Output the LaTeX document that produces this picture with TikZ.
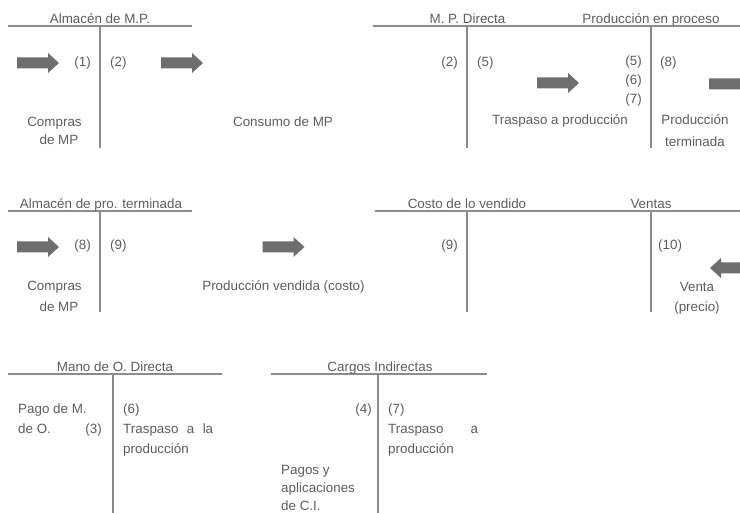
\documentclass[tikz,border=0pt]{standalone}
\usepackage{fontspec}
\setmainfont{Liberation Sans}
\definecolor{txt}{HTML}{5E5E5E}
\definecolor{ln}{HTML}{8C8C8C}
\definecolor{arr}{HTML}{6E6E6E}
\tikzset{
  lbl/.style={font=\fontsize{13.4}{16}\selectfont, text=txt, inner sep=0pt, anchor=base},
  lblL/.style={lbl, anchor=base west},
  lblR/.style={lbl, anchor=base east},
  tline/.style={draw=ln, line width=1.3pt},
  blockarrow/.pic={\fill[arr] (-21,-5.5) -- (10,-5.5) -- (10,-10) -- (21,0) -- (10,10) -- (10,5.5) -- (-21,5.5) -- cycle;}
}
\begin{document}
\begin{tikzpicture}[x=1pt,y=-1pt]
\clip (0,0) rectangle (740,513);
\fill[white] (0,0) rectangle (740,513);

% ---- T-account lines ----
\draw[tline] (8,26) -- (192,26);
\draw[tline] (100,26) -- (100,148);
\draw[tline] (373,26) -- (740,26);
\draw[tline] (467,26) -- (467,148);
\draw[tline] (651,26) -- (651,148);
\draw[tline] (8,211) -- (192,211);
\draw[tline] (100,211) -- (100,312);
\draw[tline] (375,211) -- (740,211);
\draw[tline] (467,211) -- (467,312);
\draw[tline] (651,211) -- (651,312);
\draw[tline] (8,374) -- (222,374);
\draw[tline] (113,374) -- (113,513);
\draw[tline] (271,374) -- (487,374);
\draw[tline] (378,374) -- (378,513);

% ---- block arrows ----
\pic at (38,63) {blockarrow};
\pic at (182,63) {blockarrow};
\pic at (558,83) {blockarrow};
\pic at (730,84) {blockarrow};
\pic at (38,247) {blockarrow};
\pic at (283.5,247) {blockarrow};
\pic[rotate=180] at (731,268) {blockarrow};

% ---- titles ----
\node[lbl] (ti1) at (100,24) {Almacén de M.P.};
\node[lbl] (ti2) at (467.5,24) {M. P. Directa};
\node[lbl] (ti3) at (651,24) {Producción en proceso};
\node[lbl] (ti4) at (101,208.5) {Almacén de pro. terminada};
\node[lbl] (ti5) at (467,208.5) {Costo de lo vendido};
\node[lbl] (ti6) at (651,208.5) {Ventas};
\node[lbl] (ti7) at (115,371.5) {Mano de O. Directa};
\node[lbl] (ti8) at (380,371.5) {Cargos Indirectas};

% ---- row 1 ----
\node[lblR] (a1) at (91,67) {(1)};
\node[lblL] (a2) at (110,67) {(2)};
\node[lbl] (a3) at (54.5,127) {Compras};
\node[lbl] (a4) at (59,145) {de MP};
\node[lbl] (a5) at (283,127) {Consumo de MP};
\node[lblR] (b1) at (458,67) {(2)};
\node[lblL] (b2) at (477,67) {(5)};
\node[lblR] (b3) at (642,66) {(5)};
\node[lblR] (b4) at (642,85) {(6)};
\node[lblR] (b5) at (642,104) {(7)};
\node[lbl] (b6) at (560,125) {Traspaso a producción};
\node[lblL] (b7) at (660,67) {(8)};
\node[lbl] (b8) at (695,125) {Producción};
\node[lbl] (b9) at (695,147) {terminada};

% ---- row 2 ----
\node[lblR] (c1) at (91,250) {(8)};
\node[lblL] (c2) at (110,250) {(9)};
\node[lbl] (c3) at (54.5,291) {Compras};
\node[lbl] (c4) at (59,312) {de MP};
\node[lbl] (c5) at (283.5,291) {Producción vendida (costo)};
\node[lblR] (d1) at (458,249.5) {(9)};
\node[lblL] (d2) at (658,249.5) {(10)};
\node[lbl] (d3) at (697,292) {Venta};
\node[lbl] (d4) at (697,312) {(precio)};

% ---- row 3 ----
\node[lblL] (e1) at (18,413.5) {Pago de M.};
\node[lblL] (e2) at (18,433.5) {de O.};
\node[lblR] (e3) at (102,433.5) {(3)};
\node[lblL] (e4) at (123,413.5) {(6)};
\node[lblL] (e5) at (123,433.5) {\makebox[90pt][s]{Traspaso a la}};
\node[lblL] (e6) at (123,453.5) {producción};
\node[lblR] (f1) at (372,413.5) {(4)};
\node[lblL] (f2) at (388,413.5) {(7)};
\node[lblL] (f3) at (388,433.5) {\makebox[90pt][s]{Traspaso a}};
\node[lblL] (f4) at (388,453.5) {producción};
\node[lblL] (f5) at (281,474.5) {Pagos y};
\node[lblL] (f6) at (281,492.5) {aplicaciones};
\node[lblL] (f7) at (281,510) {de C.I.};
\end{tikzpicture}
\end{document}
